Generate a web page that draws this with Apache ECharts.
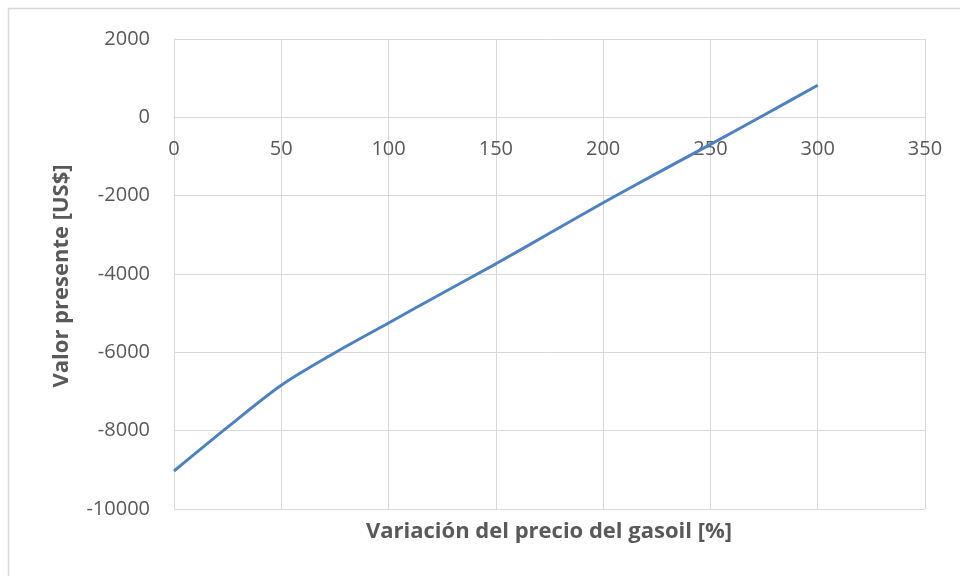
<!DOCTYPE html>
<html>
<head>
<meta charset="utf-8">
<style>
  html, body { margin: 0; padding: 0; background: #ffffff; }
  #chart { width: 960px; height: 576px; }
</style>
<script src="https://cdn.jsdelivr.net/npm/echarts@6/dist/echarts.min.js"></script>
</head>
<body>
<div id="chart"></div>
<script>
// Variación del precio del gasoil (%) vs. valor presente (US$)
const variacion = [0, 25, 50, 75, 100, 125, 150, 175, 200, 225, 250, 275, 300];
const valorPresente = [-9030, -7910, -6840, -6010, -5250, -4490, -3740, -2960, -2180, -1430, -690, 60, 820];
const xTicks = [0, 50, 100, 150, 200, 250, 300, 350];
const yTicks = [-10000, -8000, -6000, -4000, -2000, 0, 2000];

const seriesData = variacion.map((v, i) => [v, valorPresente[i]]);

const FONT = '"Open Sans", "Liberation Sans", sans-serif';
const TEXT = '#595959';
const GRID = '#d9d9d9';

const chart = echarts.init(document.getElementById('chart'), null, { renderer: 'canvas' });

chart.setOption({
  backgroundColor: '#ffffff',
  animation: false,
  grid: { left: 174, right: 35, top: 39, bottom: 67, containLabel: false },
  xAxis: {
    type: 'value',
    min: xTicks[0],
    max: xTicks[xTicks.length - 1],
    interval: 50,
    offset: 0,
    axisLine: { show: true, onZero: false, lineStyle: { color: GRID, width: 1 } },
    axisTick: { show: false },
    axisLabel: { color: TEXT, fontFamily: FONT, fontSize: 20, margin: 22 },
    splitLine: { show: true, lineStyle: { color: GRID, width: 1 } }
  },
  yAxis: {
    type: 'value',
    min: yTicks[0],
    max: yTicks[yTicks.length - 1],
    interval: 2000,
    axisLine: { show: true, lineStyle: { color: GRID, width: 1 } },
    axisTick: { show: false },
    axisLabel: {
      color: TEXT, fontFamily: FONT, fontSize: 20, margin: 24,
      formatter: (v) => String(v)
    },
    splitLine: { show: true, lineStyle: { color: GRID, width: 1 } }
  },
  graphic: [
    {
      type: 'rect',
      silent: true,
      shape: { x: 8.5, y: 8.5, width: 970, height: 580 },
      style: { fill: 'none', stroke: GRID, lineWidth: 1.5 },
      z: -1
    },
    {
      type: 'text',
      x: 549, y: 532,
      style: {
        text: 'Variación del precio del gasoil [%]',
        fill: TEXT, font: 'bold 22px ' + FONT,
        textAlign: 'center', textVerticalAlign: 'middle'
      }
    },
    {
      type: 'text',
      x: 62, y: 276,
      rotation: Math.PI / 2,
      style: {
        text: 'Valor presente [US$]',
        fill: TEXT, font: 'bold 22px ' + FONT,
        textAlign: 'center', textVerticalAlign: 'middle'
      }
    }
  ],
  series: [
    {
      type: 'line',
      data: seriesData,
      smooth: 0.3,
      showSymbol: false,
      lineStyle: { color: '#4f81bd', width: 3 },
      itemStyle: { color: '#4f81bd' }
    }
  ]
});

// Lift the x axis (line and labels) up to the zero value line
const yBottom = chart.convertToPixel({ yAxisIndex: 0 }, yTicks[0]);
const yZero = chart.convertToPixel({ yAxisIndex: 0 }, 0);
chart.setOption({ xAxis: { offset: -(yBottom - yZero) } });
</script>
</body>
</html>
